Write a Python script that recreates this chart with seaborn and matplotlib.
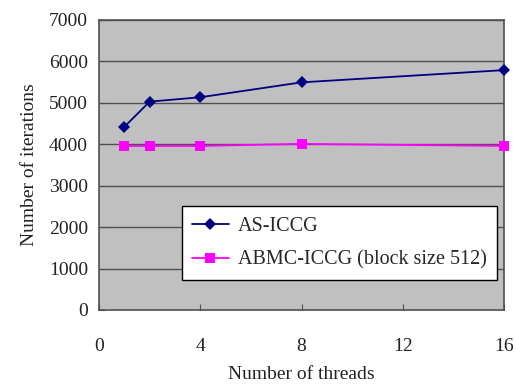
import matplotlib
matplotlib.use("Agg")
import matplotlib.pyplot as plt
import seaborn as sns
import pandas as pd

threads = [1, 2, 4, 8, 16]
as_iccg = [4420, 5030, 5135, 5495, 5790]
abmc_iccg = [3960, 3960, 3960, 4010, 3960]
series_names = ["AS-ICCG", "ABMC-ICCG (block size 512)"]
x_ticks = [0, 4, 8, 12, 16]
y_ticks = [0, 1000, 2000, 3000, 4000, 5000, 6000, 7000]

df = pd.DataFrame({
    "threads": threads * 2,
    "iterations": as_iccg + abmc_iccg,
    "series": [series_names[0]] * len(threads) + [series_names[1]] * len(threads),
})

sns.set_style("ticks", {"axes.facecolor": "#C0C0C0"})
plt.rcParams["font.family"] = ["Liberation Serif", "DejaVu Serif"]

FS = 14
LEG_FS = 14.5

fig = plt.figure(figsize=(5.16, 3.84), dpi=100)
ax = fig.add_axes([99 / 516, 1 - 310 / 384, (504 - 99) / 516, (310 - 20) / 384])
ax.set_facecolor("#C0C0C0")

for y in y_ticks[1:]:
    ax.axhline(y, color="#505050", lw=1.0, zorder=1)

sns.lineplot(
    data=df, x="threads", y="iterations", hue="series", style="series",
    palette={series_names[0]: "#000080", series_names[1]: "#FF00FF"},
    markers={series_names[0]: "D", series_names[1]: "s"},
    dashes=False, markersize=7, markeredgewidth=0, linewidth=1.3,
    ax=ax, zorder=3, clip_on=False,
)
for line in ax.lines:
    if line.get_marker() == "D":
        line.set_markersize(6)
    elif line.get_marker() == "s":
        line.set_markersize(7.5)

ax.set_xlim(0, 16)
ax.set_ylim(0, 7000)
ax.set_xticks(x_ticks)
ax.set_yticks(y_ticks)
ax.tick_params(axis="both", direction="in", length=4, color="#505050",
               labelsize=FS, labelcolor="#222222")
ax.tick_params(axis="x", pad=20)
ax.tick_params(axis="y", pad=8)
for side, sp in ax.spines.items():
    sp.set_visible(True)
    sp.set_color("#505050")
    sp.set_linewidth(1.2)

ax.set_xlabel("Number of threads", fontsize=FS, color="#222222", labelpad=8)
ax.set_ylabel("Number of iterations", fontsize=FS, color="#222222", labelpad=8)

leg = ax.legend(
    loc="lower right", bbox_to_anchor=(497 / 516, 1 - 280 / 384),
    bbox_transform=fig.transFigure, borderaxespad=0, frameon=True, fancybox=False,
    fontsize=LEG_FS, handlelength=1.85, handletextpad=0.45, labelspacing=0.75,
    borderpad=0.5, title=None,
)
leg.get_frame().set_edgecolor("black")
leg.get_frame().set_facecolor("white")
leg.get_frame().set_alpha(1)
leg.get_frame().set_linewidth(1.0)

fig.savefig("out.png", dpi=100, facecolor="white")
